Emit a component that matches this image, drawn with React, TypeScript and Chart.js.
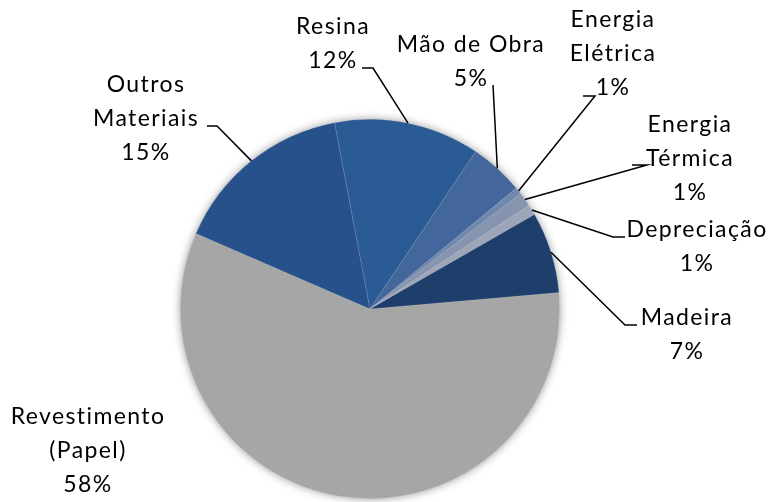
import React, { useEffect, useRef } from "react";
import { Chart, registerables } from "chart.js";

Chart.register(...registerables);

const categories = [
  "Revestimento (Papel)",
  "Outros Materiais",
  "Resina",
  "Mão de Obra",
  "Energia Elétrica",
  "Energia Térmica",
  "Depreciação",
  "Madeira",
];
const labelLines = [
  ["Revestimento", "(Papel)"],
  ["Outros", "Materiais"],
  ["Resina"],
  ["Mão de Obra"],
  ["Energia", "Elétrica"],
  ["Energia", "Térmica"],
  ["Depreciação"],
  ["Madeira"],
];
const values = [57.9, 15.5, 12.4, 4.6, 0.6, 1.2, 0.9, 6.9];
const colors = ["#A6A6A6", "#26518A", "#2B5B94", "#43679C", "#7088AC", "#8794B0", "#9DA6B9", "#1E3E6B"];

// label layout: centre x, first line y
const labelPos = [
  [88, 417], [146, 85], [333, 27], [471, 45], [613, 20], [690, 125], [697, 230], [687, 318],
];
// leader line points after the anchor on the arc
const leaders: number[][][] = [
  [],
  [[217, 126], [207, 126]],
  [[373, 68], [362, 68]],
  [[493, 85]],
  [[595, 96], [583, 96]],
  [[647, 165], [632, 165]],
  [[613, 237], [625, 237]],
  [[625, 325], [637, 325]],
];
const FONT = "23px Lato";
const LINE_H = 34;

const shadowPlugin = {
  id: "pieShadow",
  beforeDatasetsDraw(chart: any) {
    const meta = chart.getDatasetMeta(0);
    const a = meta.data[0];
    if (!a) return;
    const ctx = chart.ctx;
    ctx.save();
    ctx.shadowColor = "rgba(0,0,0,0.5)";
    ctx.shadowBlur = 10;
    ctx.fillStyle = "#A6A6A6";
    ctx.beginPath();
    ctx.arc(a.x, a.y, a.outerRadius - 1, 0, Math.PI * 2);
    ctx.fill();
    ctx.restore();
  },
};

const labelPlugin = {
  id: "pieLabels",
  afterDatasetsDraw(chart: any) {
    const ctx = chart.ctx;
    const meta = chart.getDatasetMeta(0);
    const total = values.reduce((s, v) => s + v, 0);
    ctx.save();
    ctx.font = FONT;
    (ctx as any).letterSpacing = "1.4px";
    ctx.fillStyle = "#000";
    ctx.textAlign = "center";
    ctx.textBaseline = "middle";
    ctx.strokeStyle = "#000";
    ctx.lineWidth = 1.5;
    meta.data.forEach((arc: any, i: number) => {
      const mid = (arc.startAngle + arc.endAngle) / 2;
      const ax = arc.x + Math.cos(mid) * arc.outerRadius;
      const ay = arc.y + Math.sin(mid) * arc.outerRadius;
      const pts = leaders[i];
      if (pts.length) {
        ctx.beginPath();
        ctx.moveTo(ax, ay);
        pts.forEach((p) => ctx.lineTo(p[0], p[1]));
        ctx.stroke();
      }
      const lines = [...labelLines[i], Math.round((values[i] / total) * 100) + "%"];
      const [cx, cy] = labelPos[i];
      lines.forEach((t, k) => ctx.fillText(t, cx, cy + k * LINE_H));
    });
    ctx.restore();
  },
};

export default function App() {
  const ref = useRef<HTMLCanvasElement>(null);
  useEffect(() => {
    const chart = new Chart(ref.current!, {
      type: "pie",
      data: {
        labels: categories,
        datasets: [
          {
            data: values,
            backgroundColor: colors,
            borderColor: "rgba(255,255,255,0.2)",
            borderWidth: 0.6,
          },
        ],
      },
      options: {
        animation: false,
        responsive: false,
        rotation: 85,
        layout: { padding: { left: 100, right: 129, top: 119, bottom: 3 } },
        plugins: { legend: { display: false }, tooltip: { enabled: false } },
      },
      plugins: [shadowPlugin, labelPlugin],
    });
    return () => chart.destroy();
  }, []);
  return (
    <div style={{ position: "fixed", left: 0, top: 0, width: 769, height: 502, background: "#fff" }}>
      <canvas ref={ref} width={769} height={502} style={{ width: 769, height: 502 }} />
    </div>
  );
}
